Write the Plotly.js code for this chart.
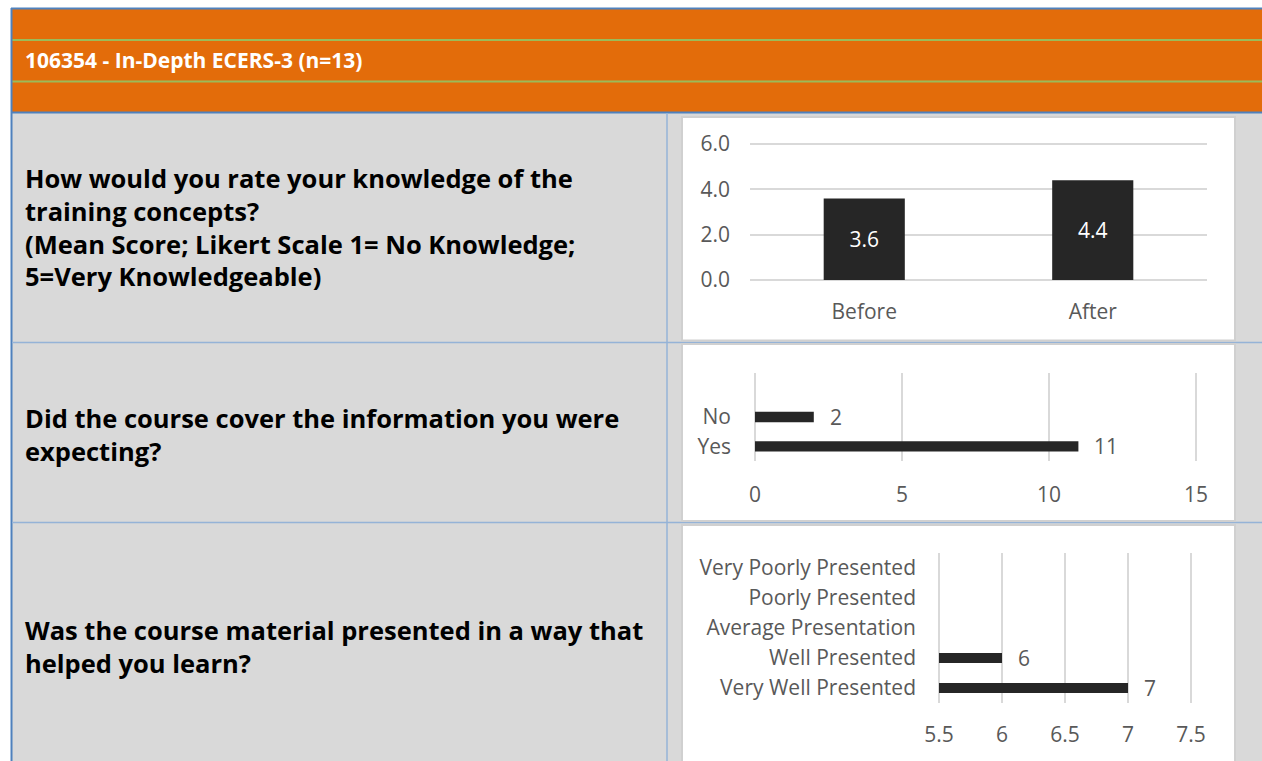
<!DOCTYPE html>
<html>
<head>
<meta charset="utf-8">
<script src="https://cdn.plot.ly/plotly-3.0.1.min.js"></script>
<style>html,body{margin:0;padding:0;background:#fff;}#chart{width:1262px;height:761px;}</style>
</head>
<body>
<div id="chart"></div>
<script>
// ---- data ----
const titleText = "106354 - In-Depth ECERS-3 (n=13)";
const q1Lines = ["How would you rate your knowledge of the", "training concepts?", "(Mean Score; Likert Scale 1= No Knowledge;", "5=Very Knowledgeable)"];
const q2Lines = ["Did the course cover the information you were", "expecting?"];
const q3Lines = ["Was the course material presented in a way that", "helped you learn?"];

const knowCategories = ["Before", "After"];
const knowValues = [3.6, 4.4];

const coverCategories = ["No", "Yes"];
const coverValues = [2, 11];

const presentCategories = ["Very Poorly Presented", "Poorly Presented", "Average Presentation", "Well Presented", "Very Well Presented"];
const presentValues = [null, null, null, 6, 7];

// ---- helpers ----
const W = 1262, H = 761;
const px = x => x / W;
const py = y => 1 - y / H;
const grey = "#595959";
const barColor = "#262626";
const gridColor = "#D9D9D9";
const chartFont = "Open Sans, Noto Sans, sans-serif";
const fs = 21;

function rect(x0, y0, x1, y1, fill, line, lw) {
  return {type: "rect", xref: "paper", yref: "paper", x0: px(x0), x1: px(x1), y0: py(y1), y1: py(y0),
    fillcolor: fill, line: {color: line || fill, width: lw === undefined ? 0 : lw}, layer: "below"};
}
function hline(x0, x1, y, color, w) {
  return {type: "line", xref: "paper", yref: "paper", x0: px(x0), x1: px(x1), y0: py(y), y1: py(y),
    line: {color: color, width: w}, layer: "below"};
}
function vline(x, y0, y1, color, w) {
  return {type: "line", xref: "paper", yref: "paper", x0: px(x), x1: px(x), y0: py(y0), y1: py(y1),
    line: {color: color, width: w}, layer: "below"};
}

const shapes = [
  rect(12, 113, 1262, 761, "#D9D9D9"),
  rect(11, 8, 1262, 113, "#E36C0A"),
  hline(12, 1262, 40, "#9BBB59", 2),
  hline(12, 1262, 81.5, "#9BBB59", 2),
  hline(11, 1262, 8.5, "#4F81BD", 2),
  hline(11, 1262, 112.5, "#4F81BD", 2),
  vline(11.5, 8, 761, "#4F81BD", 2),
  vline(667, 113, 761, "#95B3D7", 1.5),
  hline(12, 1262, 342.5, "#95B3D7", 1.5),
  hline(12, 1262, 522.5, "#95B3D7", 1.5),
  rect(682, 117, 1235, 340.5, "#FFFFFF", "#D0D0D0", 2),
  rect(682, 344, 1235, 521, "#FFFFFF", "#D0D0D0", 2),
  rect(682, 525, 1235, 765, "#FFFFFF", "#D0D0D0", 2)
];

const annotations = [];
function leftText(text, y, color, size) {
  annotations.push({xref: "paper", yref: "paper", x: px(23), y: py(y), xanchor: "left", yanchor: "middle",
    text: "<b>" + text + "</b>", showarrow: false, font: {family: chartFont, size: size, color: color}});
}
leftText(titleText, 60, "#FFFFFF", 21);
const q1Y = [178, 211, 244, 276];
q1Lines.forEach((t, i) => leftText(t, q1Y[i], "#000000", 25.5));
const q2Y = [418, 451];
q2Lines.forEach((t, i) => leftText(t, q2Y[i], "#000000", 25.5));
const q3Y = [630, 663];
q3Lines.forEach((t, i) => leftText(t, q3Y[i], "#000000", 25.5));

coverCategories.forEach((c, i) => {
  annotations.push({xref: "x2", yref: "y2", x: coverValues[i], y: c, xanchor: "left", yanchor: "middle",
    xshift: 14, text: String(coverValues[i]), showarrow: false, font: {family: chartFont, size: fs, color: grey}});
});
presentCategories.forEach((c, i) => {
  if (presentValues[i] === null) return;
  annotations.push({xref: "x4", yref: "y3", x: presentValues[i], y: c, xanchor: "left", yanchor: "middle",
    xshift: 14, text: String(presentValues[i]), showarrow: false, font: {family: chartFont, size: fs, color: grey}});
});

const traces = [
  {type: "bar", x: knowCategories, y: knowValues, xaxis: "x", yaxis: "y", width: 0.355,
   marker: {color: barColor}, text: knowValues.map(v => v.toFixed(1)), textposition: "inside",
   insidetextanchor: "middle", textfont: {family: chartFont, size: fs, color: "#FFFFFF"},
   hoverinfo: "none"},
  {type: "bar", orientation: "h", y: coverCategories, x: coverValues, xaxis: "x2", yaxis: "y2", width: 0.35,
   marker: {color: barColor}, hoverinfo: "none"},
  // empty trace so the grid-only axis of the third chart is drawn (below the bars)
  {type: "scatter", x: [], y: [], xaxis: "x3", yaxis: "y3", hoverinfo: "none", showlegend: false},
  {type: "bar", orientation: "h", y: presentCategories, x: presentValues, xaxis: "x4", yaxis: "y3", width: 0.34,
   marker: {color: barColor}, hoverinfo: "none"}
];

const tickFont = {family: chartFont, size: fs, color: grey};

// ranges padded by a few pixels so that the edge gridlines are drawn
const layout = {
  width: W, height: H,
  margin: {l: 0, r: 0, t: 0, b: 0, pad: 0},
  paper_bgcolor: "#FFFFFF",
  plot_bgcolor: "rgba(0,0,0,0)",
  showlegend: false,
  shapes: shapes,
  annotations: annotations,
  xaxis: {domain: [px(750), px(1207)], anchor: "y", type: "category", categoryorder: "array",
    categoryarray: knowCategories, showgrid: false, showline: false, zeroline: false, ticks: "",
    tickfont: tickFont, ticklabelstandoff: 14, fixedrange: true},
  yaxis: {domain: [py(283), py(141)], anchor: "x", range: [-0.1323, 6.1323], dtick: 2, tick0: 0,
    tickformat: ".1f", showgrid: true, gridcolor: gridColor, gridwidth: 2, zeroline: false,
    showline: false, ticks: "", tickfont: tickFont, ticklabelstandoff: 19, fixedrange: true},
  xaxis2: {domain: [px(752), px(1199)], anchor: "y2", range: [-0.1020, 15.1020], dtick: 5, tick0: 0,
    showgrid: true, gridcolor: gridColor, gridwidth: 2, zeroline: false, showline: false, ticks: "",
    tickfont: tickFont, ticklabelstandoff: 19, fixedrange: true},
  yaxis2: {domain: [py(461), py(373)], anchor: "x2", type: "category", categoryorder: "array",
    categoryarray: ["Yes", "No"], range: [-0.5, 2.5], showgrid: false, zeroline: false, showline: false,
    ticks: "", tickfont: tickFont, ticklabelstandoff: 20, fixedrange: true},
  xaxis3: {domain: [px(936), px(1194)], anchor: "y3", range: [5.4762, 7.5238], dtick: 0.5, tick0: 5.5,
    showgrid: true, gridcolor: gridColor, gridwidth: 2, zeroline: false, showline: false, ticks: "",
    showticklabels: false, fixedrange: true},
  xaxis4: {domain: [px(939), px(1191)], anchor: "y3", range: [5.5, 7.5], dtick: 0.5, tick0: 5.5,
    showgrid: false, zeroline: false, showline: false, ticks: "",
    tickfont: tickFont, ticklabelstandoff: 17, fixedrange: true},
  yaxis3: {domain: [py(703), py(553)], anchor: "x3", type: "category", categoryorder: "array",
    categoryarray: presentCategories.slice().reverse(), range: [-0.5, 4.5], showgrid: false,
    zeroline: false, showline: false, ticks: "", tickfont: tickFont, ticklabelstandoff: 19, fixedrange: true}
};

Plotly.newPlot("chart", traces, layout, {displayModeBar: false, staticPlot: true});
</script>
</body>
</html>
